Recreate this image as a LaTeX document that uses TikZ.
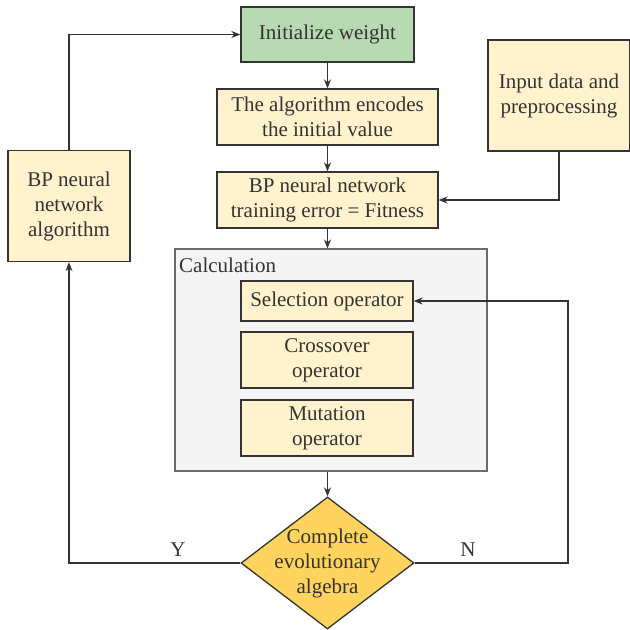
\documentclass[tikz,border=0pt]{standalone}
\usepackage{fontspec}
\setmainfont{Liberation Serif}
\usetikzlibrary{shapes.geometric,arrows.meta}
\definecolor{boxfill}{HTML}{FFF2CC}
\definecolor{greenfill}{HTML}{B7D9B1}
\definecolor{decfill}{HTML}{FED45E}
\definecolor{calcfill}{HTML}{F4F4F4}
\definecolor{linec}{HTML}{333333}
\definecolor{calcline}{HTML}{6A6A6A}
\begin{document}
\begin{tikzpicture}[x=1pt,y=-1pt,
  txt/.style={font=\fontsize{21}{25}\selectfont, text=linec},
  box/.style={txt, draw=linec, line width=1.3pt, fill=boxfill, inner sep=0pt, align=center},
  arr/.style={draw=linec, line width=1.2pt, -{Stealth[length=9pt,width=7pt]}},
  ln/.style={draw=linec, line width=1.2pt}]
\useasboundingbox (0,0) rectangle (630,630);
% calculation frame
\node[draw=calcline, fill=calcfill, line width=1.2pt, minimum width=312pt, minimum height=222pt, inner sep=0pt] (calc) at (331,360) {};
\node[txt, anchor=base west, inner sep=0pt] (calclabel) at (179,272) {Calculation};
% boxes
\node[box, fill=greenfill, minimum width=173pt, minimum height=55pt] (init) at (327.5,34.5) {Initialize weight};
\node[box, minimum width=221pt, minimum height=56pt] (enc) at (327.5,117) {The algorithm encodes\\the initial value};
\node[box, minimum width=221pt, minimum height=56pt] (fit) at (327.5,200) {BP neural network\\training error = Fitness};
\node[box, minimum width=142pt, minimum height=111pt] (input) at (559,95.5) {Input data and\\preprocessing};
\node[box, minimum width=122pt, minimum height=111pt] (bp) at (69,206) {BP neural\\network\\algorithm};
\node[box, minimum width=172pt, minimum height=40pt] (sel) at (327,301) {Selection operator};
\node[box, minimum width=172pt, minimum height=56pt] (cro) at (327,360) {Crossover\\operator};
\node[box, minimum width=172pt, minimum height=56pt] (mut) at (327,428) {Mutation\\operator};
\node[diamond, draw=linec, line width=1.3pt, fill=decfill, minimum width=173pt, minimum height=132pt, inner sep=0pt] (dec) at (327.5,563) {};
\node[txt, align=center, inner sep=0pt] (dectext) at (327.5,563) {Complete\\evolutionary\\algebra};
% connectors
\draw[arr] (bp.north) |- (init.west);
\draw[arr] (init.south) -- (enc.north);
\draw[arr] (enc.south) -- (fit.north);
\draw[arr] (input.south) |- (fit.east);
\draw[arr] (fit.south) -- (fit.south |- calc.north);
\draw[arr] (calc.south -| dec.north) -- (dec.north);
\draw[arr] (dec.west) -| (bp.south);
\coordinate (nturn) at (568,563);
\draw[arr] (dec.east) -- (nturn) |- (sel.east);
\node[txt, anchor=base, inner sep=0pt] (ylab) at (178,556) {Y};
\node[txt, anchor=base, inner sep=0pt] (nlab) at (468,556) {N};
\end{tikzpicture}
\end{document}
